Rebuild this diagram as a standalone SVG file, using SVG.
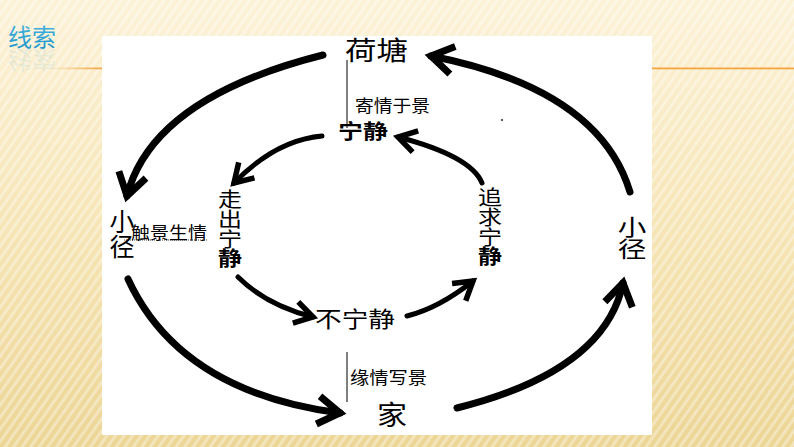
<svg xmlns="http://www.w3.org/2000/svg" xmlns:xlink="http://www.w3.org/1999/xlink" width="794" height="447" viewBox="0 0 794 447">
<defs>
<linearGradient id="bg" x1="0" y1="0" x2="0" y2="1">
<stop offset="0" stop-color="#fcf2d8"/>
<stop offset="0.5" stop-color="#f6e5b6"/>
<stop offset="1" stop-color="#ecd595"/>
</linearGradient>
<pattern id="stripes" width="7" height="7" patternUnits="userSpaceOnUse" patternTransform="rotate(35)">
<rect x="0" y="0" width="3" height="7" fill="#ffffff" opacity="0.35"/>
</pattern>
<linearGradient id="lineL" x1="0" y1="0" x2="1" y2="0">
<stop offset="0" stop-color="#f3a640" stop-opacity="0"/>
<stop offset="1" stop-color="#f3a640"/>
</linearGradient>
<linearGradient id="titleGrad" x1="0" y1="0" x2="0" y2="1">
<stop offset="0" stop-color="#4bb6e2"/>
<stop offset="1" stop-color="#1f95c8"/>
</linearGradient>
<marker id="headOuter" viewBox="-30 -20 40 40" markerWidth="40" markerHeight="40" refX="0" refY="0" orient="auto" markerUnits="userSpaceOnUse">
<path d="M -22 -14 L 0 0 L -22 14" fill="none" stroke="#000" stroke-width="7" stroke-linejoin="miter"/>
</marker>
<marker id="headInner" viewBox="-30 -20 40 40" markerWidth="40" markerHeight="40" refX="0" refY="0" orient="auto" markerUnits="userSpaceOnUse">
<path d="M -18 -11 L 0 0 L -18 11" fill="none" stroke="#000" stroke-width="5.5" stroke-linejoin="miter"/>
</marker>
</defs>
<style>
.cjk { font-family: "Noto Sans CJK SC", "Noto Sans", sans-serif; fill: #000; }
.v { writing-mode: vertical-rl; text-orientation: upright; }
.lbl { font-size: 17px; }
.outer { fill: none; stroke: #000; stroke-width: 7; stroke-linecap: round; marker-end: url(#headOuter); }
.inner { fill: none; stroke: #000; stroke-width: 5; stroke-linecap: round; marker-end: url(#headInner); }
.thin { stroke: #000; stroke-width: 1; fill: none; }
</style>

<!-- background -->
<rect x="0" y="0" width="794" height="447" fill="url(#bg)"/>
<rect x="0" y="0" width="794" height="447" fill="url(#stripes)"/>
<rect x="50" y="67.5" width="52" height="1.8" fill="url(#lineL)"/>
<rect x="652" y="67.5" width="142" height="1.8" fill="#f3a640"/>

<!-- title -->
<g id="title">
<text id="titleText" x="8" y="46" style="font-family: 'Noto Sans CJK SC', sans-serif; font-size: 24px;" fill="url(#titleGrad)">线索</text>
<use xlink:href="#titleText" href="#titleText" transform="translate(0,97) scale(1,-1)" opacity="0.1"/>
</g>

<!-- panel -->
<rect x="102" y="36" width="550" height="399" fill="#ffffff"/>

<g id="connectors">
<path class="outer" d="M 323 55 Q 152 98 127 196"/>
<path class="outer" d="M 128 279 Q 180 392 340 413"/>
<path class="outer" d="M 457 408 Q 605 371 623 283"/>
<path class="outer" d="M 630 192 Q 599 89 431 56"/>
<path class="inner" d="M 322 136 Q 276 140 234 183"/>
<path class="inner" d="M 238 277 Q 266 305 313 317"/>
<path class="inner" d="M 407 316 Q 439 308 473 281"/>
<path class="inner" d="M 482 183 Q 471 156 398 137"/>
<line class="thin" x1="347" y1="60" x2="347" y2="128"/>
<line class="thin" x1="347" y1="352" x2="347" y2="402"/>
<line x1="124" y1="240" x2="207" y2="240" stroke="#444" stroke-width="1" stroke-dasharray="1 1"/>
<rect x="501" y="119" width="2" height="2" fill="#555"/>
</g>

<g id="node-hetang">
<text class="cjk" x="345" y="60" font-size="26" textLength="63" lengthAdjust="spacingAndGlyphs">荷塘</text>
</g>
<g id="label-jiqing">
<text class="cjk lbl" x="355" y="112" textLength="75" lengthAdjust="spacingAndGlyphs">寄情于景</text>
</g>
<g id="node-ningjing">
<text class="cjk" x="338" y="139" font-size="20" font-weight="bold" textLength="50" lengthAdjust="spacingAndGlyphs">宁静</text>
</g>
<g id="node-xiaojing-left">
<text class="cjk v" x="122" y="209" font-size="25">小径</text>
</g>
<g id="label-chujing">
<text class="cjk lbl" x="131" y="239" textLength="76" lengthAdjust="spacingAndGlyphs">触景生情</text>
</g>
<g id="node-zouchu" transform="translate(230,0) scale(1.2,1)">
<text class="cjk v" x="0" y="189" font-size="20">走出宁<tspan font-weight="bold">静</tspan></text>
</g>
<g id="node-buning">
<text class="cjk" x="315" y="327" font-size="22" textLength="80" lengthAdjust="spacingAndGlyphs">不宁静</text>
</g>
<g id="label-yuanqing">
<text class="cjk lbl" x="350" y="384" textLength="77" lengthAdjust="spacingAndGlyphs">缘情写景</text>
</g>
<g id="node-jia">
<text class="cjk" x="377" y="425" font-size="27" textLength="30" lengthAdjust="spacingAndGlyphs">家</text>
</g>
<g id="node-zhuiqiu" transform="translate(490,0) scale(1.2,1)">
<text class="cjk v" x="0" y="187" font-size="20">追求宁<tspan font-weight="bold">静</tspan></text>
</g>
<g id="node-xiaojing-right" transform="translate(632,0) scale(1.3,1)">
<text class="cjk v" x="0" y="216" font-size="22">小径</text>
</g>
</svg>
